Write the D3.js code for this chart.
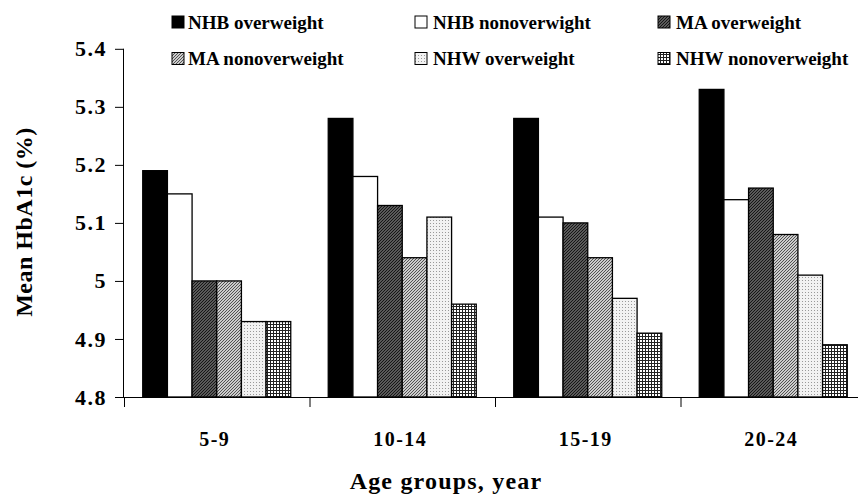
<!DOCTYPE html>
<html><head><meta charset="utf-8">
<script src="https://cdn.jsdelivr.net/npm/d3@7"></script>
<style>body{margin:0;background:#fff}svg{display:block}text{font-family:"Liberation Serif","Times New Roman",serif;font-weight:bold}</style>
</head><body>
<svg id="c" width="858" height="502"></svg>
<script>
const categories = ["5-9","10-14","15-19","20-24"];
const seriesNames = ["NHB overweight","NHB nonoverwight","MA overweight","MA nonoverweight","NHW overweight","NHW nonoverweight"];
const nhbOver    = [5.19,5.28,5.28,5.33];
const nhbNon     = [5.15,5.18,5.11,5.14];
const maOver     = [5.00,5.13,5.10,5.16];
const maNon      = [5.00,5.04,5.04,5.08];
const nhwOver    = [4.93,5.11,4.97,5.01];
const nhwNon     = [4.93,4.96,4.91,4.89];
const yTicks = [4.8,4.9,5.0,5.1,5.2,5.3,5.4];
const seriesValues = [nhbOver,nhbNon,maOver,maNon,nhwOver,nhwNon];

(function(){
const svg = d3.select("#c");
const defs = svg.append("defs");
function pat(id, size, draw){ const p=defs.append("pattern").attr("id",id).attr("patternUnits","userSpaceOnUse").attr("width",size).attr("height",size); draw(p); }
pat("pMAo",3,p=>{p.append("rect").attr("width",3).attr("height",3).attr("fill","#777");p.append("path").attr("d","M-1,1 l2,-2 M0,3 l3,-3 M2,4 l2,-2").attr("stroke","#111").attr("stroke-width",1.1);});
pat("pMAn",3,p=>{p.append("rect").attr("width",3).attr("height",3).attr("fill","#ccc");p.append("path").attr("d","M-1,1 l2,-2 M0,3 l3,-3 M2,4 l2,-2").attr("stroke","#444").attr("stroke-width",0.9);});
pat("pNHWo",3,p=>{p.append("rect").attr("width",3).attr("height",3).attr("fill","#f2f2f2");p.append("rect").attr("x",1).attr("y",1).attr("width",1).attr("height",1).attr("fill","#999");});
pat("pNHWn",3,p=>{p.append("rect").attr("width",3).attr("height",3).attr("fill","#fff");p.append("path").attr("d","M0,0.5 h3 M0.5,0 v3").attr("stroke","#222").attr("stroke-width",1);});
const fills = ["#000","#fff","url(#pMAo)","url(#pMAn)","url(#pNHWo)","url(#pNHWn)"];

const left=124, bottom=397, topY=48.8;
const x0 = d3.scaleBand().domain(categories).range([left, left+4*185.5]).paddingInner(0).paddingOuter(0);
const x1 = d3.scaleBand().domain(d3.range(6)).range([0,x0.bandwidth()]).paddingOuter(0.76).paddingInner(0);
const y = d3.scaleLinear().domain([4.8,5.4]).range([bottom, topY]);

const g = svg.append("g");
categories.forEach((c,ci)=>{
  seriesValues.forEach((vals,si)=>{
    g.append("rect").attr("x",x0(c)+x1(si)).attr("y",y(vals[ci])).attr("width",x1.bandwidth()).attr("height",bottom-y(vals[ci]))
     .attr("fill",fills[si]).attr("stroke","#000").attr("stroke-width",1.3);
  });
});

const ya = svg.append("g").attr("transform",`translate(${left},0)`).call(d3.axisLeft(y).tickValues(yTicks).tickSize(9).tickPadding(8).tickFormat(d=>String(+d.toFixed(1))));
ya.select(".domain").attr("d",`M-0.5,${topY}V${bottom}`).attr("stroke","#000");
ya.selectAll("line").attr("stroke","#000");
ya.selectAll("text").attr("font-size",22).attr("letter-spacing",1.5).attr("fill","#000").attr("font-family","Liberation Serif").attr("font-weight","bold");
svg.append("line").attr("x1",left-9).attr("x2",858).attr("y1",bottom+0.5).attr("y2",bottom+0.5).attr("stroke","#000");
const bounds=[left, ...categories.slice(1).map(c=>x0(c))];
bounds.forEach(b=>svg.append("line").attr("x1",b+0.5).attr("x2",b+0.5).attr("y1",bottom).attr("y2",bottom+10).attr("stroke","#000"));
categories.forEach(c=>svg.append("text").attr("x",x0(c)+x0.bandwidth()/2-2).attr("y",446).attr("text-anchor","middle").attr("font-size",20).attr("letter-spacing",1.5).text(c));

svg.append("text").attr("x",446).attr("y",489).attr("text-anchor","middle").attr("font-size",24).attr("letter-spacing",1.2).text("Age groups, year");
svg.append("text").attr("transform","translate(32,222) rotate(-90)").attr("text-anchor","middle").attr("font-size",24).attr("letter-spacing",0.5).text("Mean HbA1c (%)");

const lsq=[172,415,658], ltx=[188,433,676], lb=[28.5,65];
seriesNames.forEach((n,i)=>{
  const col=i%3, row=Math.floor(i/3);
  svg.append("rect").attr("x",lsq[col]).attr("y",lb[row]-12.5).attr("width",12).attr("height",12).attr("fill",fills[i]).attr("stroke","#000").attr("stroke-width",1);
  svg.append("text").attr("x",ltx[col]).attr("y",lb[row]).attr("font-size",19).text(n);
});
})();
</script>
</body></html>
